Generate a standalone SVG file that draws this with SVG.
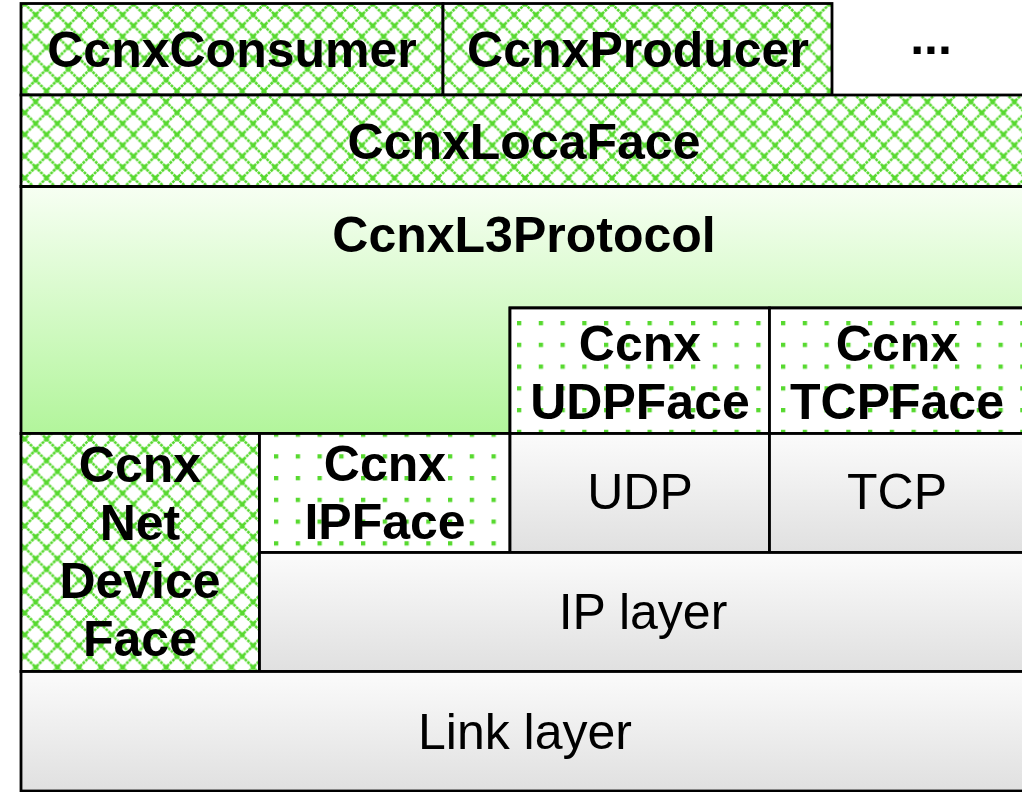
<svg xmlns="http://www.w3.org/2000/svg" width="1022" height="792" viewBox="0 0 1022 792">
<style>
.box{stroke:#000;stroke-width:2.8}
.b{font-family:"Liberation Sans",Arial,sans-serif;font-weight:bold;font-size:50px;text-anchor:middle;fill:#000}
.n{font-family:"Liberation Sans",Arial,sans-serif;font-size:50px;text-anchor:middle;fill:#000}
</style>
<defs>
<pattern id="diam" patternUnits="userSpaceOnUse" x="3" y="4" width="21.75" height="21.75">
<rect width="21.75" height="21.75" fill="#fff"/>
<path d="M0,0L21.75,21.75M21.75,0L0,21.75" stroke="#57d92f" stroke-width="2.6" stroke-dasharray="2.8,0.9"/>
<rect x="-2.4" y="-2.4" width="4.8" height="4.8" fill="#57d92f"/>
<rect x="19.35" y="-2.4" width="4.8" height="4.8" fill="#57d92f"/>
<rect x="-2.4" y="19.35" width="4.8" height="4.8" fill="#57d92f"/>
<rect x="19.35" y="19.35" width="4.8" height="4.8" fill="#57d92f"/>
<rect x="8.5" y="8.5" width="4.8" height="4.8" fill="#57d92f"/>
</pattern>
<pattern id="dotU" patternUnits="userSpaceOnUse" x="517" y="321" width="21.75" height="21.75">
<rect width="21.75" height="21.75" fill="#fff"/>
<rect width="4.3" height="4.3" fill="#57d92f"/>
</pattern>
<pattern id="dotT" patternUnits="userSpaceOnUse" x="781" y="321" width="21.75" height="21.75">
<rect width="21.75" height="21.75" fill="#fff"/>
<rect width="4.3" height="4.3" fill="#57d92f"/>
</pattern>
<pattern id="dotI" patternUnits="userSpaceOnUse" x="274" y="432.5" width="21.75" height="21.75">
<rect width="21.75" height="21.75" fill="#fff"/>
<rect width="4.3" height="4.3" fill="#57d92f"/>
</pattern>
<linearGradient id="green" gradientUnits="userSpaceOnUse" x1="0" y1="186" x2="0" y2="434">
<stop offset="0" stop-color="#f7fff3"/>
<stop offset="1" stop-color="#b2f59b"/>
</linearGradient>
<linearGradient id="gray" x1="0" y1="0" x2="0" y2="1">
<stop offset="0" stop-color="#fbfbfb"/>
<stop offset="1" stop-color="#e0e0e0"/>
</linearGradient>
</defs>
<rect width="1022" height="792" fill="#fff"/>

<g id="consumer">
<rect class="box" x="21" y="3.5" width="422" height="91.5" fill="url(#diam)"/>
<text class="b" x="232" y="67">CcnxConsumer</text>
</g>
<g id="producer">
<rect class="box" x="443" y="3.5" width="389" height="91.5" fill="url(#diam)"/>
<text class="b" x="638" y="67">CcnxProducer</text>
</g>
<g id="more">
<text class="b" x="931" y="54">...</text>
</g>
<g id="localface">
<rect class="box" x="21" y="95" width="1012" height="91.5" fill="url(#diam)"/>
<text class="b" x="524" y="159">CcnxLocaFace</text>
</g>
<g id="l3protocol">
<path class="box" d="M21,186.5H1033V308H510V433.5H21Z" fill="url(#green)"/>
<text class="b" x="524" y="252">CcnxL3Protocol</text>
</g>
<g id="udpface">
<rect class="box" x="510" y="308" width="259.5" height="125.5" fill="url(#dotU)"/>
<text class="b" x="640" y="361">Ccnx</text>
<text class="b" x="640" y="419">UDPFace</text>
</g>
<g id="tcpface">
<rect class="box" x="769.5" y="308" width="263" height="125.5" fill="url(#dotT)"/>
<text class="b" x="897" y="361">Ccnx</text>
<text class="b" x="897" y="419">TCPFace</text>
</g>
<g id="netdeviceface">
<rect class="box" x="21" y="433.5" width="238.5" height="238" fill="url(#diam)"/>
<text class="b" x="140" y="482">Ccnx</text>
<text class="b" x="140" y="540">Net</text>
<text class="b" x="140" y="598">Device</text>
<text class="b" x="140" y="656">Face</text>
</g>
<g id="ipface">
<rect class="box" x="259.5" y="433.5" width="250.5" height="119" fill="url(#dotI)"/>
<text class="b" x="385" y="481">Ccnx</text>
<text class="b" x="385" y="539">IPFace</text>
</g>
<g id="udp">
<rect class="box" x="510" y="433.5" width="259.5" height="119" fill="url(#gray)"/>
<text class="n" x="640" y="509">UDP</text>
</g>
<g id="tcp">
<rect class="box" x="769.5" y="433.5" width="263" height="119" fill="url(#gray)"/>
<text class="n" x="897" y="509">TCP</text>
</g>
<g id="iplayer">
<rect class="box" x="259.5" y="552.5" width="773" height="119" fill="url(#gray)"/>
<text class="n" x="643" y="629">IP layer</text>
</g>
<g id="linklayer">
<rect class="box" x="21" y="671.5" width="1012" height="119.5" fill="url(#gray)"/>
<text class="n" x="525" y="749">Link layer</text>
</g>
<g id="connectors"/>
</svg>
